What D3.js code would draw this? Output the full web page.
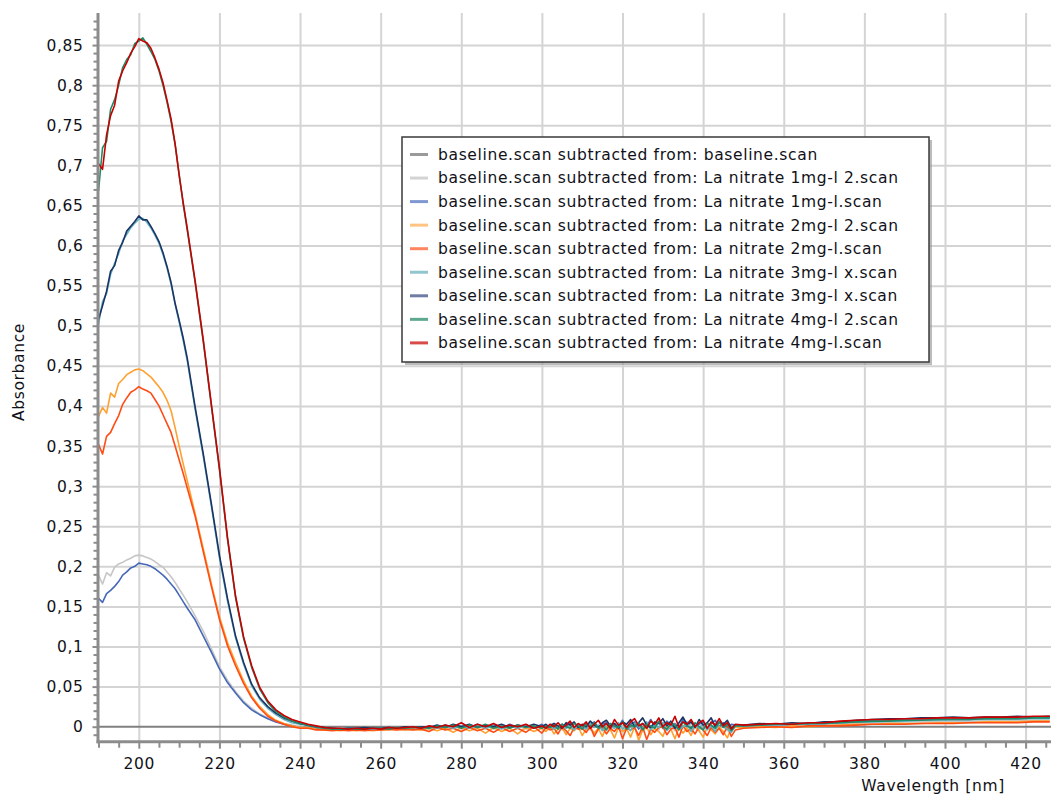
<!DOCTYPE html>
<html><head><meta charset="utf-8">
<script src="https://cdn.jsdelivr.net/npm/d3@7"></script>
<style>
html,body{margin:0;padding:0;background:#fff;}
svg{display:block;}
text{font-family:"DejaVu Sans",Verdana,sans-serif;}
</style></head><body>
<svg id="chart" width="1051" height="796"></svg>
<script>
// ---- data ----
const wavelengths = [
190,191,192,193,194,195,196,197,198,199,200,201,202,203,204,205,206,207,208,209,210,211,212,
214,216,218,220,222,224,226,228,230,232,234,236,238,240,
242,244,246,248,250,252,254,256,258,260,262,264,266,268,270,
272,274,276,278,280,282,284,286,288,290,292,294,296,298,
300,301,302,303,304,305,306,307,308,309,310,311,312,313,314,315,316,317,318,319,
320,321,322,323,324,325,326,327,328,329,330,331,332,333,334,335,336,337,338,339,
340,341,342,343,344,345,346,347,348,
350,
354,358,362,366,370,374,378,382,386,390,394,398,402,406,410,414,418,422,426];

const baselineWavelengths = [190, 427];
const absBaseline = [0, 0];

const absLa1mg2 = [
0.189,0.178,0.192,0.188,0.199,0.203,0.205,0.208,0.210,0.213,0.214,0.213,0.211,0.209,0.206,0.202,0.199,0.193,0.187,0.180,0.172,0.164,0.156,
0.138,0.119,0.097,0.075,0.058,0.044,0.032,0.023,0.016,0.011,0.007,0.004,0.002,0.000,
-0.001,-0.002,-0.002,-0.003,-0.002,-0.003,-0.003,-0.002,-0.003,-0.002,-0.002,-0.003,-0.001,-0.002,-0.001,
-0.003,0.000,-0.002,0.001,-0.003,0.000,-0.002,0.001,-0.003,0.000,-0.002,0.001,-0.003,0.000,
-0.002,0.001,-0.003,0.002,-0.001,-0.004,0.002,0.000,-0.003,0.003,
-0.002,0.001,-0.004,0.003,-0.001,0.002,-0.005,0.001,0.003,-0.003,
0.000,-0.004,0.004,-0.002,0.001,-0.006,0.003,-0.001,0.002,-0.004,
0.005,-0.002,0.000,-0.005,0.003,0.001,-0.004,0.004,-0.001,-0.005,
0.003,0.000,-0.004,0.004,-0.002,0.001,-0.005,0.002,0.000,
0.000,
0.001,0.001,0.002,0.002,0.003,0.003,0.004,0.005,0.005,0.006,0.006,0.006,0.007,0.007,0.007,0.008,0.008,0.008,0.008];

const absLa1mg = [
0.160,0.155,0.166,0.170,0.175,0.181,0.189,0.193,0.198,0.200,0.204,0.203,0.202,0.200,0.197,0.193,0.189,0.184,0.178,0.172,0.164,0.156,0.148,
0.133,0.113,0.093,0.072,0.055,0.042,0.030,0.021,0.015,0.010,0.006,0.003,0.001,-0.001,
-0.001,-0.002,-0.003,-0.002,-0.003,-0.002,-0.003,-0.002,-0.002,-0.003,-0.001,-0.002,-0.002,-0.001,-0.002,
0.001,-0.002,0.002,-0.001,0.001,-0.002,0.003,-0.001,0.002,-0.002,0.003,-0.001,0.002,-0.002,
0.003,-0.001,0.002,0.004,-0.002,0.003,0.000,0.005,-0.001,0.002,
-0.003,0.004,0.001,0.006,-0.001,0.003,0.005,-0.002,0.004,0.000,
0.008,-0.001,0.003,0.006,-0.003,0.004,0.001,0.009,0.000,0.005,
-0.002,0.007,0.002,0.004,-0.002,0.010,0.001,0.006,0.000,0.003,
0.006,-0.003,0.004,0.008,0.000,0.005,-0.001,0.003,0.002,
0.001,
0.002,0.003,0.002,0.004,0.004,0.005,0.006,0.007,0.007,0.008,0.008,0.009,0.009,0.009,0.010,0.010,0.010,0.011,0.011];

const absLa2mg2 = [
0.387,0.398,0.391,0.416,0.411,0.428,0.433,0.439,0.442,0.445,0.446,0.444,0.440,0.436,0.430,0.424,0.417,0.407,0.394,0.373,0.350,0.328,0.307,
0.265,0.222,0.178,0.137,0.105,0.080,0.057,0.038,0.025,0.015,0.008,0.004,0.001,-0.001,
-0.001,-0.003,-0.004,-0.004,-0.005,-0.004,-0.005,-0.004,-0.005,-0.004,-0.004,-0.003,-0.004,-0.003,-0.004,
-0.002,-0.005,-0.002,-0.007,-0.001,-0.005,-0.002,-0.008,-0.001,-0.006,-0.002,-0.009,-0.001,-0.006,
-0.002,-0.006,0.000,-0.009,-0.003,-0.001,-0.010,-0.002,-0.005,0.000,
-0.011,-0.003,-0.001,-0.008,-0.002,-0.012,0.000,-0.004,-0.014,-0.001,
-0.006,-0.002,-0.013,0.000,-0.017,-0.004,-0.001,-0.010,-0.002,-0.006,
-0.012,0.000,-0.003,-0.015,-0.001,-0.008,-0.002,-0.011,0.001,-0.005,
-0.013,-0.001,-0.004,-0.009,0.000,-0.006,-0.014,-0.002,-0.001,
-0.001,
0.000,-0.001,0.001,0.000,0.001,0.002,0.003,0.003,0.004,0.004,0.004,0.005,0.005,0.005,0.006,0.006,0.006,0.007,0.007];

const absLa2mg = [
0.352,0.340,0.362,0.367,0.378,0.388,0.402,0.410,0.417,0.420,0.424,0.421,0.419,0.416,0.408,0.400,0.389,0.378,0.367,0.350,0.333,0.316,0.298,
0.262,0.218,0.175,0.134,0.101,0.076,0.054,0.036,0.023,0.013,0.007,0.003,0.000,-0.002,
-0.002,-0.004,-0.004,-0.005,-0.004,-0.005,-0.004,-0.005,-0.004,-0.004,-0.003,-0.004,-0.003,-0.004,-0.003,
-0.006,-0.001,-0.004,-0.002,-0.006,-0.001,-0.005,-0.002,-0.007,-0.001,-0.006,-0.002,-0.007,0.000,
-0.008,-0.001,-0.004,-0.002,-0.009,0.000,-0.005,-0.011,-0.001,-0.003,
-0.002,-0.007,0.000,-0.012,-0.003,-0.001,-0.009,-0.002,-0.006,0.001,
-0.015,-0.002,-0.004,-0.001,-0.011,0.000,-0.016,-0.003,-0.007,-0.001,
0.000,-0.010,-0.003,-0.001,-0.013,0.001,-0.006,-0.002,-0.009,0.000,
-0.004,-0.011,-0.001,-0.007,-0.002,-0.010,0.000,-0.012,-0.004,
-0.002,
-0.001,0.000,-0.001,0.001,0.001,0.001,0.002,0.003,0.003,0.003,0.004,0.004,0.004,0.005,0.005,0.005,0.005,0.006,0.006];

const absLa3mgx1 = [
0.502,0.530,0.540,0.564,0.578,0.590,0.606,0.614,0.622,0.628,0.633,0.634,0.629,0.622,0.613,0.603,0.589,0.572,0.552,0.527,0.505,0.482,0.457,
0.395,0.337,0.275,0.211,0.157,0.111,0.078,0.051,0.034,0.023,0.015,0.009,0.005,0.003,
0.002,0.000,-0.002,-0.002,-0.003,-0.003,-0.002,-0.002,-0.003,-0.002,-0.002,-0.001,-0.002,0.000,-0.002,
0.000,-0.002,0.001,-0.002,0.001,-0.002,0.002,-0.002,0.001,-0.003,0.001,-0.002,0.002,-0.002,
0.001,-0.002,0.002,-0.003,0.000,0.003,-0.002,0.001,-0.004,0.002,
0.000,-0.003,0.004,-0.001,0.002,-0.005,0.003,0.000,-0.002,0.005,
-0.003,0.001,-0.005,0.004,0.000,-0.002,0.006,-0.004,0.002,-0.001,
0.005,-0.005,0.001,0.003,-0.003,0.000,0.006,-0.006,0.002,-0.002,
0.004,-0.004,0.001,-0.006,0.005,0.000,-0.003,-0.007,0.001,
0.001,
0.002,0.002,0.003,0.003,0.004,0.005,0.006,0.006,0.007,0.007,0.008,0.008,0.009,0.009,0.009,0.010,0.010,0.010,0.010];

const absLa3mgx2 = [
0.508,0.525,0.543,0.568,0.575,0.594,0.604,0.618,0.624,0.630,0.637,0.632,0.632,0.624,0.615,0.605,0.591,0.574,0.554,0.528,0.507,0.485,0.460,
0.398,0.340,0.278,0.214,0.160,0.113,0.080,0.053,0.036,0.025,0.017,0.011,0.007,0.004,
0.002,0.000,-0.001,-0.002,-0.003,-0.002,-0.002,-0.001,-0.002,-0.002,-0.001,-0.002,0.000,-0.001,0.000,
-0.001,0.002,-0.001,0.003,0.000,0.003,-0.001,0.002,0.000,0.003,-0.001,0.002,0.000,0.003,
0.000,0.003,-0.001,0.004,0.001,-0.002,0.005,0.002,0.006,-0.001,
0.003,0.000,0.007,0.002,-0.001,0.005,0.008,0.001,0.004,-0.002,
0.006,0.003,0.009,0.000,0.005,0.011,0.002,-0.001,0.006,0.004,
0.010,0.001,0.007,-0.002,0.005,0.012,0.003,0.006,-0.001,0.009,
0.002,0.005,0.011,0.000,0.006,0.003,0.008,-0.002,0.002,
0.002,
0.004,0.003,0.005,0.004,0.006,0.006,0.008,0.009,0.010,0.010,0.011,0.011,0.012,0.011,0.012,0.012,0.013,0.012,0.013];

const absLa4mg2 = [
0.668,0.722,0.730,0.770,0.782,0.800,0.822,0.832,0.838,0.852,0.855,0.859,0.851,0.842,0.832,0.818,0.800,0.779,0.755,0.726,0.689,0.652,0.620,
0.553,0.480,0.400,0.321,0.234,0.161,0.110,0.074,0.047,0.030,0.019,0.012,0.007,0.004,
0.002,0.000,-0.002,-0.003,-0.003,-0.002,-0.003,-0.003,-0.002,-0.002,-0.003,-0.001,-0.002,-0.001,-0.001,
-0.002,0.001,-0.001,0.002,-0.002,0.002,-0.001,0.003,-0.002,0.001,-0.002,0.002,-0.001,0.001,
-0.002,0.001,-0.001,0.002,-0.003,0.003,0.000,-0.002,0.004,0.001,
-0.003,0.003,0.000,0.005,-0.002,0.002,-0.004,0.004,0.001,-0.001,
0.006,-0.003,0.002,0.000,0.005,-0.004,0.003,0.001,-0.002,0.007,
0.000,-0.003,0.004,0.002,-0.004,0.006,0.001,-0.002,0.005,0.000,
-0.004,0.004,0.002,-0.002,0.006,-0.001,0.003,-0.005,0.001,
0.001,
0.002,0.003,0.003,0.004,0.004,0.005,0.006,0.007,0.007,0.008,0.008,0.009,0.009,0.009,0.010,0.010,0.010,0.011,0.011];

const absLa4mg = [
0.702,0.695,0.738,0.762,0.775,0.805,0.818,0.828,0.840,0.848,0.858,0.855,0.853,0.846,0.834,0.820,0.803,0.781,0.758,0.727,0.688,0.654,0.622,
0.555,0.482,0.402,0.323,0.236,0.163,0.112,0.076,0.049,0.032,0.021,0.014,0.009,0.006,
0.003,0.001,-0.001,-0.002,-0.002,-0.003,-0.002,-0.003,-0.002,-0.003,-0.001,-0.002,-0.001,0.000,-0.002,
0.001,-0.001,0.002,0.000,0.005,-0.001,0.003,0.000,0.004,-0.001,0.002,0.000,0.003,-0.002,
0.001,-0.002,0.003,0.000,0.005,-0.001,0.002,0.007,-0.001,0.004,
0.001,0.006,-0.002,0.003,0.008,0.000,0.004,-0.002,0.009,0.002,
0.005,-0.001,0.006,0.010,0.001,0.004,-0.002,0.007,0.003,0.011,
0.000,0.005,0.002,0.013,-0.001,0.006,0.003,0.009,0.000,0.005,
0.008,-0.002,0.006,0.002,0.010,0.001,0.005,-0.003,0.003,
0.002,
0.003,0.004,0.003,0.005,0.005,0.007,0.008,0.009,0.009,0.010,0.010,0.011,0.011,0.011,0.012,0.012,0.012,0.013,0.013];

const seriesNames = [
"baseline.scan subtracted from: baseline.scan",
"baseline.scan subtracted from: La nitrate 1mg-l 2.scan",
"baseline.scan subtracted from: La nitrate 1mg-l.scan",
"baseline.scan subtracted from: La nitrate 2mg-l 2.scan",
"baseline.scan subtracted from: La nitrate 2mg-l.scan",
"baseline.scan subtracted from: La nitrate 3mg-l x.scan",
"baseline.scan subtracted from: La nitrate 3mg-l x.scan",
"baseline.scan subtracted from: La nitrate 4mg-l 2.scan",
"baseline.scan subtracted from: La nitrate 4mg-l.scan"];
const seriesValues = [absBaseline, absLa1mg2, absLa1mg, absLa2mg2, absLa2mg, absLa3mgx1, absLa3mgx2, absLa4mg2, absLa4mg];
const seriesX = [baselineWavelengths, wavelengths, wavelengths, wavelengths, wavelengths, wavelengths, wavelengths, wavelengths, wavelengths];

const xTickValues = [200,220,240,260,280,300,320,340,360,380,400,420];
const yTickValues = [0,0.05,0.1,0.15,0.2,0.25,0.3,0.35,0.4,0.45,0.5,0.55,0.6,0.65,0.7,0.75,0.8,0.85];
const xLabel = "Wavelength [nm]";
const yLabel = "Absorbance";

// ---- styles ----
const lineColors = ["#808080","#c6c6c6","#4668b8","#ffa030","#ff4c14","#62b2c2","#1c3364","#1f8a66","#c80000"];
const legendColors = ["#9a9a9a","#d3d3d3","#7f98d2","#ffc382","#ff8660","#92c6cf","#6f7ca3","#5ea88e","#d94a4a"];

(function draw() {
const svg = d3.select("#chart");
const pL = 98.5, pR = 1051, pT = 13, pB = 741.7;
const x = d3.scaleLinear().domain([190, 426.3]).range([pL, pR]);
const y = d3.scaleLinear().domain([-0.0187, 0.89]).range([pB, pT]);
const fmt = v => d3.format("~g")(v).replace(".", ",");
const FS = 15.5, LS = 0.65, TXT = "#111118";

svg.append("defs").append("clipPath").attr("id","plotclip")
  .append("rect").attr("x", pL).attr("y", pT).attr("width", pR-pL).attr("height", pB-pT);

// grid
const grid = svg.append("g");
grid.append("g").attr("transform",`translate(0,${pB})`)
  .call(d3.axisBottom(x).tickValues(xTickValues).tickSize(-(pB-pT)).tickFormat(""))
  .call(g => g.select(".domain").remove())
  .selectAll("line").attr("stroke","#d4d4d4").attr("stroke-width",2);
grid.append("g").attr("transform",`translate(${pL},0)`)
  .call(d3.axisLeft(y).tickValues(yTickValues.filter(v=>v>0)).tickSize(-(pR-pL)).tickFormat(""))
  .call(g => g.select(".domain").remove())
  .selectAll("line").attr("stroke","#d4d4d4").attr("stroke-width",2);

// series
const plot = svg.append("g").attr("clip-path","url(#plotclip)");
seriesValues.forEach((vals, i) => {
  const xs = seriesX[i];
  const pts = vals.map((v, j) => [xs[j], v]).filter(p => p[0] !== undefined && p[1] !== undefined);
  const line = d3.line().x(d => x(d[0])).y(d => y(d[1]));
  plot.append("path").datum(pts).attr("d", line)
    .attr("fill","none").attr("stroke", lineColors[i])
    .attr("stroke-width", i === 0 ? 2 : 1.6).attr("stroke-linejoin","round");
});

// axes
const minorX = d3.range(190, 427, 5).filter(v => !xTickValues.includes(v));
const minorY = d3.range(-1, 89).map(v => v/100).filter(v => !yTickValues.some(t => Math.abs(t - v) < 1e-9));
const axX = svg.append("g").attr("transform",`translate(0,${pB})`);
axX.call(d3.axisBottom(x).tickValues(minorX).tickSize(6).tickFormat(""))
  .call(g => g.select(".domain").remove())
  .selectAll("line").attr("stroke","#8c8c8c").attr("stroke-width",2);
const axX2 = svg.append("g").attr("transform",`translate(0,${pB})`);
axX2.call(d3.axisBottom(x).tickValues(xTickValues).tickSize(7).tickPadding(9).tickFormat(d3.format("d")))
  .call(g => g.select(".domain").remove());
axX2.selectAll("line").attr("stroke","#8c8c8c").attr("stroke-width",2);
axX2.selectAll("text").attr("font-size",FS).attr("letter-spacing",LS).attr("fill",TXT).attr("font-family","DejaVu Sans");

const axY = svg.append("g").attr("transform",`translate(${pL},0)`);
axY.call(d3.axisLeft(y).tickValues(minorY).tickSize(5).tickFormat(""))
  .call(g => g.select(".domain").remove())
  .selectAll("line").attr("stroke","#8c8c8c").attr("stroke-width",2);
const axY2 = svg.append("g").attr("transform",`translate(${pL},0)`);
axY2.call(d3.axisLeft(y).tickValues(yTickValues).tickSize(6).tickPadding(9).tickFormat(fmt))
  .call(g => g.select(".domain").remove());
axY2.selectAll("line").attr("stroke","#8c8c8c").attr("stroke-width",2);
axY2.selectAll("text").attr("font-size",FS).attr("letter-spacing",LS).attr("fill",TXT).attr("font-family","DejaVu Sans");

// axis lines
svg.append("line").attr("x1",pL-0.5).attr("x2",pL-0.5).attr("y1",pT).attr("y2",pB+1.5)
  .attr("stroke","#8c8c8c").attr("stroke-width",3);
svg.append("line").attr("x1",pL-2).attr("x2",pR).attr("y1",pB).attr("y2",pB)
  .attr("stroke","#8c8c8c").attr("stroke-width",3);

// axis titles
svg.append("text").attr("x", 1005).attr("y", 791).attr("text-anchor","end")
  .attr("font-size",FS).attr("letter-spacing",LS).attr("fill",TXT).text(xLabel);
svg.append("text").attr("transform","translate(24,372) rotate(-90)").attr("text-anchor","middle")
  .attr("font-size",FS).attr("letter-spacing",LS).attr("fill",TXT).text(yLabel);

// legend
const lg = svg.append("g");
const lx = 402, ly = 137, lw = 527, lh = 225;
lg.append("rect").attr("x",lx+3).attr("y",ly+3).attr("width",lw).attr("height",lh).attr("fill","#a0a0a0").attr("opacity",0.7);
lg.append("rect").attr("x",lx).attr("y",ly).attr("width",lw).attr("height",lh).attr("fill","#fff")
  .attr("stroke","#3a3a3a").attr("stroke-width",1.5);
seriesNames.forEach((name, i) => {
  const cy = 154.5 + i*23.55;
  lg.append("line").attr("x1",410).attr("x2",428).attr("y1",cy).attr("y2",cy)
    .attr("stroke",legendColors[i]).attr("stroke-width",3);
  lg.append("text").attr("x",438).attr("y",cy).attr("dy","0.35em")
    .attr("font-size",FS).attr("letter-spacing",LS).attr("fill",TXT).text(name);
});
})();
</script>
</body></html>
